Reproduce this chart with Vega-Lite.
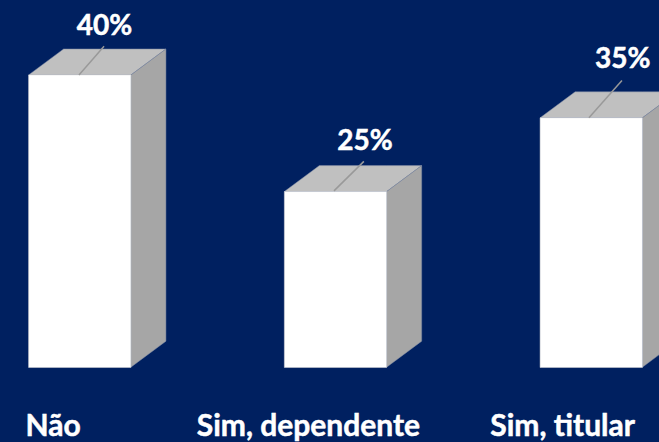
{
"$schema":"https://vega.github.io/schema/vega-lite/v6.json",
"width":659,"height":442,
"autosize":{"type":"fit","contains":"padding"},
"padding":0,
"background":"#002060",
"config":{"view":{"stroke":null}},
"datasets":{
"faces":[
{"bar":"Não","face":"topo","x":-0.2,"y":41.6,"y2":41.6},
{"bar":"Não","face":"topo","x":-0.063,"y":41.6,"y2":45.3},
{"bar":"Não","face":"topo","x":0.2,"y":41.6,"y2":45.3},
{"bar":"Não","face":"topo","x":0.337,"y":45.3,"y2":45.3},
{"bar":"Não","face":"lado","x":0.2,"y":0,"y2":41.6},
{"bar":"Não","face":"lado","x":0.337,"y":3.7,"y2":45.3},
{"bar":"Sim, dependente","face":"topo","x":0.8,"y":25,"y2":25},
{"bar":"Sim, dependente","face":"topo","x":0.937,"y":25,"y2":28.7},
{"bar":"Sim, dependente","face":"topo","x":1.2,"y":25,"y2":28.7},
{"bar":"Sim, dependente","face":"topo","x":1.337,"y":28.7,"y2":28.7},
{"bar":"Sim, dependente","face":"lado","x":1.2,"y":0,"y2":25},
{"bar":"Sim, dependente","face":"lado","x":1.337,"y":3.7,"y2":28.7},
{"bar":"Sim, titular","face":"topo","x":1.8,"y":35.5,"y2":35.5},
{"bar":"Sim, titular","face":"topo","x":1.937,"y":35.5,"y2":39.2},
{"bar":"Sim, titular","face":"topo","x":2.2,"y":35.5,"y2":39.2},
{"bar":"Sim, titular","face":"topo","x":2.337,"y":39.2,"y2":39.2},
{"bar":"Sim, titular","face":"lado","x":2.2,"y":0,"y2":35.5},
{"bar":"Sim, titular","face":"lado","x":2.337,"y":3.7,"y2":39.2}
],
"bars":[
{"bar":"Não","x":-0.2,"x2":0.2,"altura":41.6,"base":-0.05,"lx":-0.003,"lx2":0.095,"ly":41.6,"ly2":45.7,"rotulo":"40%","tx":0.097,"ty":47.3,"cx":-0.104},
{"bar":"Sim, dependente","x":0.8,"x2":1.2,"altura":25,"base":-0.05,"lx":0.994,"lx2":1.111,"ly":25.1,"ly2":29.3,"rotulo":"25%","tx":1.115,"ty":30.9,"cx":0.894},
{"bar":"Sim, titular","x":1.8,"x2":2.2,"altura":35.5,"base":-0.05,"lx":1.991,"lx2":2.12,"ly":35.5,"ly2":40.8,"rotulo":"35%","tx":2.123,"ty":42.55,"cx":1.888}
]
},
"encoding":{
"x":{"type":"quantitative","scale":{"domain":[-0.3118,2.2649],"nice":false,"zero":false},"axis":null},
"y":{"type":"quantitative","scale":{"domain":[-10.511,52.273],"nice":false,"zero":false},"axis":null}
},
"layer":[
{"data":{"name":"faces"},
 "mark":{"type":"area","clip":true,"interpolate":"linear","stroke":"#7f8aa5","strokeWidth":0.5},
 "encoding":{
  "x":{"field":"x","type":"quantitative"},
  "y":{"field":"y","type":"quantitative","stack":null},
  "y2":{"field":"y2"},
  "detail":{"field":"bar"},
  "color":{"field":"face","type":"nominal","scale":{"domain":["topo","lado"],"range":["#c0c0c0","#a6a6a6"]},"legend":null}
 }},
{"data":{"name":"bars"},
 "mark":{"type":"rect","color":"#ffffff","stroke":"#d9d9d9","strokeWidth":0.5},
 "encoding":{
  "x":{"field":"x","type":"quantitative"},
  "x2":{"field":"x2"},
  "y":{"field":"altura","type":"quantitative"},
  "y2":{"field":"base"}
 }},
{"data":{"name":"bars"},
 "mark":{"type":"rule","color":"#999999","strokeWidth":1.5},
 "encoding":{
  "x":{"field":"lx","type":"quantitative"},
  "x2":{"field":"lx2"},
  "y":{"field":"ly","type":"quantitative"},
  "y2":{"field":"ly2"}
 }},
{"data":{"name":"bars"},
 "mark":{"type":"text","font":"Lato","fontWeight":"bold","fontSize":28,"color":"#ffffff","stroke":"#ffffff","strokeWidth":0.5,"align":"center","baseline":"alphabetic"},
 "encoding":{
  "x":{"field":"tx","type":"quantitative"},
  "y":{"field":"ty","type":"quantitative"},
  "text":{"field":"rotulo"}
 }},
{"data":{"name":"bars"},
 "mark":{"type":"text","font":"Lato","fontWeight":"bold","fontSize":30,"color":"#ffffff","stroke":"#ffffff","strokeWidth":0.5,"align":"center","baseline":"alphabetic"},
 "encoding":{
  "x":{"field":"cx","type":"quantitative"},
  "y":{"datum":-9.76,"type":"quantitative"},
  "text":{"field":"bar"}
 }}
]
}
